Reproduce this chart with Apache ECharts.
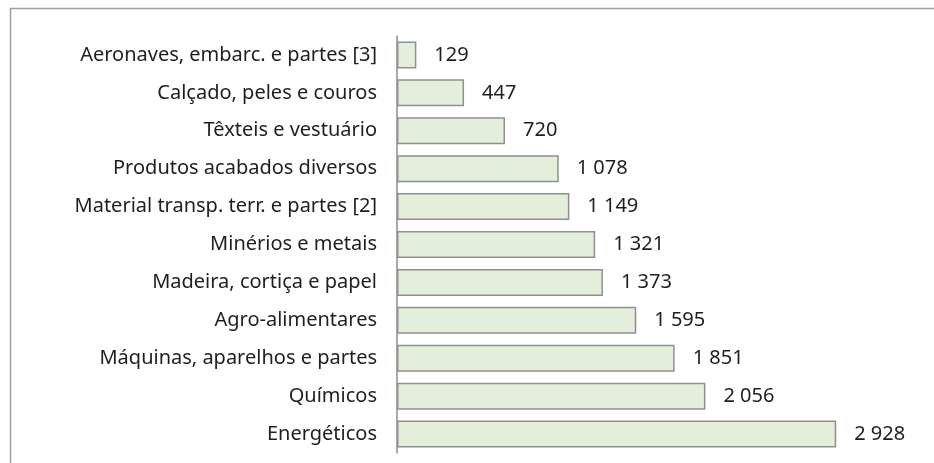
<!DOCTYPE html>
<html>
<head>
<meta charset="utf-8">
<script src="https://cdn.jsdelivr.net/npm/echarts@6/dist/echarts.min.js"></script>
<style>
  html, body { margin: 0; padding: 0; background: #fff; }
  #container { width: 934px; height: 463px; }
</style>
</head>
<body>
<div id="container"></div>
<script>
var categories = [
    'Aeronaves, embarc. e partes [3]',
    'Calçado, peles e couros',
    'Têxteis e vestuário',
    'Produtos acabados diversos',
    'Material transp. terr. e partes [2]',
    'Minérios e metais',
    'Madeira, cortiça e papel',
    'Agro-alimentares',
    'Máquinas, aparelhos e partes',
    'Químicos',
    'Energéticos'
];
var values = [129, 447, 720, 1078, 1149, 1321, 1373, 1595, 1851, 2056, 2928];

var dom = document.getElementById('container');
var myChart = echarts.init(dom, null, { renderer: 'canvas' });

// thousands with a space, like the source
function fmt(v) {
    return String(v).replace(/\B(?=(\d{3})+(?!\d))/g, ' ');
}

var option = {
    animation: false,
    backgroundColor: '#fff',
    graphic: [
        {
            type: 'rect',
            shape: { x: 10.5, y: 8.5, width: 940, height: 470 },
            style: { fill: 'none', stroke: '#a0a0a0', lineWidth: 1.5 },
            silent: true
        }
    ],
    grid: { left: 397, top: 36, height: 417, width: 450 },
    xAxis: {
        type: 'value',
        min: 0,
        max: 3000,
        show: false
    },
    yAxis: {
        type: 'category',
        inverse: true,
        data: categories,
        axisLine: { lineStyle: { color: '#8c8c8c', width: 1.5 } },
        axisTick: { length: 7, lineStyle: { color: '#8c8c8c', width: 1.5 } },
        axisLabel: {
            margin: 20,
            color: '#1e1e1e',
            fontSize: 20,
            fontFamily: 'Noto Sans'
        }
    },
    series: [
        {
            type: 'bar',
            data: values,
            barWidth: 27,
            itemStyle: {
                color: '#e3efda',
                borderColor: '#8f8f8f',
                borderWidth: 1.5
            },
            label: {
                show: true,
                position: 'right',
                distance: 18,
                color: '#1e1e1e',
                fontSize: 20,
                fontFamily: 'Noto Sans',
                formatter: function (p) { return fmt(p.value); }
            }
        }
    ]
};

myChart.setOption(option);
window.addEventListener('resize', myChart.resize);
</script>
</body>
</html>
